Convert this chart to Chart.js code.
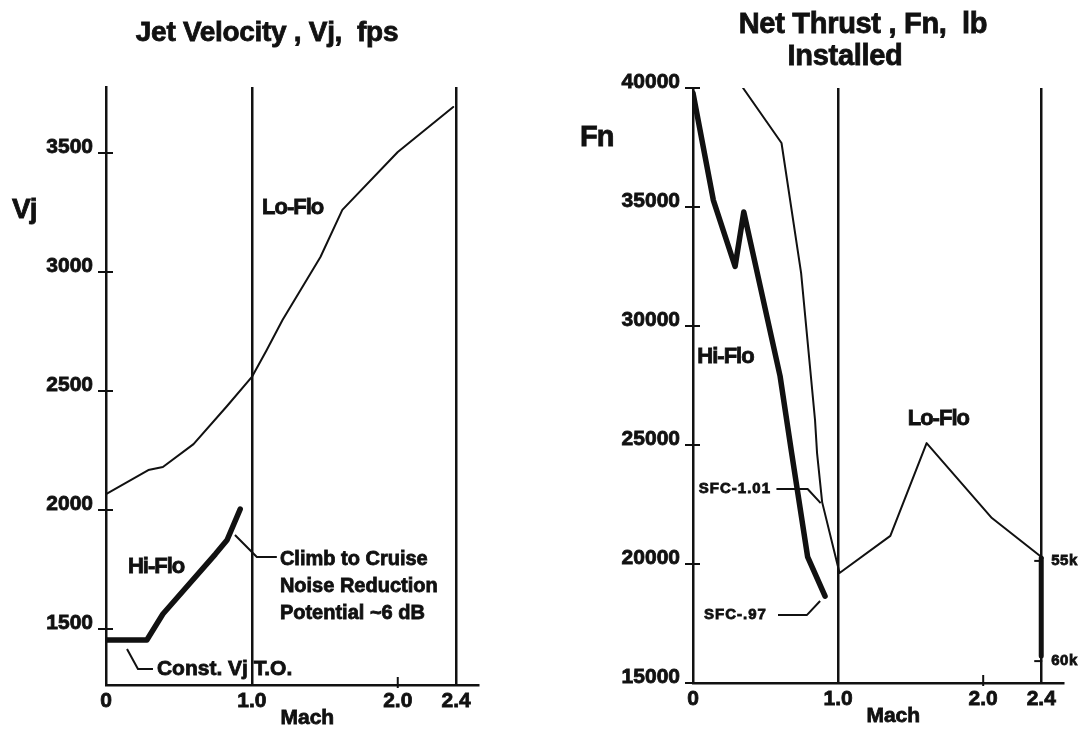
<!DOCTYPE html>
<html>
<head>
<meta charset="utf-8">
<title>Jet Velocity and Net Thrust vs Mach</title>
<script src="https://cdn.jsdelivr.net/npm/chart.js"></script>
<style>
  html, body { margin: 0; padding: 0; background: #fff; }
  #wrap { position: relative; width: 1083px; height: 731px; }
  .panel { position: absolute; top: 0; height: 731px; }
  #vjPanel { left: 0; width: 540px; }
  #fnPanel { left: 540px; width: 543px; }
</style>
</head>
<body>
<div id="wrap">
  <div class="panel" id="vjPanel"><canvas id="vjChart" width="540" height="731"></canvas></div>
  <div class="panel" id="fnPanel"><canvas id="fnChart" width="543" height="731"></canvas></div>
</div>
<script>
// ---- data ----
const machTicks = [0, 1.0, 2.0, 2.4];
const vjTicks = [1500, 2000, 2500, 3000, 3500];
const fnTicks = [15000, 20000, 25000, 30000, 35000, 40000];

// left panel: jet velocity, fps
const vjLoFloMach = [0, 0.29, 0.39, 0.60, 0.83, 1.0, 1.1, 1.21, 1.47, 1.62, 2.0, 2.38];
const vjLoFlo     = [2067, 2168, 2181, 2277, 2437, 2559, 2670, 2798, 3063, 3261, 3504, 3693];
const vjHiFloMach = [0, 0.28, 0.39, 0.75, 0.83, 0.92];
const vjHiFlo     = [1454, 1454, 1563, 1815, 1874, 2004];

// right panel: net thrust, lb
const fnHiFloMach = [0, 0.14, 0.29, 0.35, 0.60, 0.68, 0.79, 0.91];
const fnHiFlo     = [39790, 35290, 32500, 34790, 27900, 24660, 20300, 18650];
const fnLoFloMach = [0.345, 0.61, 0.745, 0.841, 0.855, 0.89, 1.01, 1.36, 1.61, 2.06, 2.41];
const fnLoFlo     = [40000, 37690, 32230, 26050, 24660, 22600, 19620, 21180, 25080, 21930, 20250];
const fnAltMach   = [2.4, 2.4];
const fnAlt       = [20250, 16130];
const altLabels   = ['55k', '60k'];
const altValues   = [20130, 15920];

const ink = '#111';
const fam = '"Liberation Sans", Arial, Helvetica, sans-serif';
Chart.defaults.font.family = fam;
Chart.defaults.color = ink;

function pts(xs, ys) {
  return xs.map((x, i) => ({ x: x, y: ys[i] }));
}

function line(xs, ys, w) {
  return { data: pts(xs, ys), borderColor: ink, borderWidth: w, pointRadius: 0,
           tension: 0, fill: false, borderJoinStyle: 'round', borderCapStyle: 'round' };
}

// scanned lettering is heavy, so fill and lightly stroke it
function drawText(ctx, text, x, y, font, align, spacing) {
  ctx.save();
  ctx.font = font;
  ctx.fillStyle = ink;
  ctx.strokeStyle = ink;
  ctx.lineWidth = 0.8;
  ctx.textAlign = align || 'left';
  ctx.textBaseline = 'middle';
  ctx.letterSpacing = spacing || '0px';
  ctx.fillText(text, x, y);
  ctx.strokeText(text, x, y);
  ctx.restore();
}

function drawPath(ctx, list, w) {
  ctx.save();
  ctx.strokeStyle = ink;
  ctx.lineWidth = w;
  ctx.lineJoin = 'round';
  ctx.beginPath();
  list.forEach((p, i) => i ? ctx.lineTo(p[0], p[1]) : ctx.moveTo(p[0], p[1]));
  ctx.stroke();
  ctx.restore();
}

// tick marks that cross the axis lines
function crossTicks(chart, yVals) {
  const ctx = chart.ctx, ca = chart.chartArea;
  const ys = chart.scales.y, xs = chart.scales.x;
  ctx.save();
  ctx.strokeStyle = ink;
  ctx.lineWidth = 2;
  ctx.beginPath();
  yVals.forEach(v => {
    const py = ys.getPixelForValue(v);
    ctx.moveTo(ca.left - 8, py);
    ctx.lineTo(ca.left + 7, py);
  });
  const p2 = xs.getPixelForValue(2.0);
  ctx.moveTo(p2, ca.bottom - 8);
  ctx.lineTo(p2, ca.bottom + 3);
  ctx.stroke();
  ctx.restore();
}

function machScale() {
  return {
    type: 'linear', min: 0, max: 2.55,
    afterBuildTicks: s => { s.ticks = machTicks.map(v => ({ value: v })); },
    afterFit: s => { s.height = 40; },
    border: { color: ink, width: 2.5 },
    grid: {
      drawTicks: false, lineWidth: 2.5,
      color: c => (c.tick && (c.tick.value === 1 || c.tick.value === 2.4)) ? ink : 'rgba(0,0,0,0)'
    },
    ticks: {
      font: { size: 21, weight: 'bold' }, color: ink, padding: 4,
      textStrokeColor: ink, textStrokeWidth: 0.8,
      maxRotation: 0, autoSkip: false,
      callback: v => v === 0 ? '0' : Number(v).toFixed(1)
    }
  };
}

function valueScale(min, max, list) {
  return {
    type: 'linear', min: min, max: max,
    afterBuildTicks: s => { s.ticks = list.map(v => ({ value: v })); },
    afterFit: s => { s.width = list[0] > 10000 ? 153 : 106; },
    border: { color: ink, width: 2.5 },
    grid: { drawOnChartArea: false, drawTicks: false },
    ticks: { font: { size: 21, weight: 'bold' }, color: ink, padding: 13, labelOffset: -6,
             textStrokeColor: ink, textStrokeWidth: 0.8,
             callback: v => String(v) }
  };
}

const vjDeco = {
  id: 'vjDeco',
  afterDraw(chart) {
    const ctx = chart.ctx, ca = chart.chartArea;
    const xs = chart.scales.x, ys = chart.scales.y;
    const P = (m, v) => [xs.getPixelForValue(m), ys.getPixelForValue(v)];
    crossTicks(chart, vjTicks);

    drawText(ctx, 'Jet Velocity , Vj,  fps', 267, 33, 'bold 28px ' + fam, 'center', '-0.3px');
    drawText(ctx, 'Vj', 12, 210, 'bold 28px ' + fam, 'left', '-1px');
    drawText(ctx, 'Mach', xs.getPixelForValue(1.38), ca.bottom + 33, 'bold 21px ' + fam, 'center');

    const lo = P(1.07, 3269);
    drawText(ctx, 'Lo-Flo', lo[0], lo[1], 'bold 22px ' + fam, 'left', '-1px');
    const hi = P(0.15, 1760);
    drawText(ctx, 'Hi-Flo', hi[0], hi[1], 'bold 22px ' + fam, 'left', '-1px');

    // climb to cruise note
    drawPath(ctx, [P(0.884, 1895), P(1.034, 1803), P(1.171, 1803)], 2);
    const c = P(1.192, 1803);
    const f = 'bold 20px ' + fam;
    drawText(ctx, 'Climb to Cruise', c[0], c[1] + 3, f);
    drawText(ctx, 'Noise Reduction', c[0], c[1] + 30, f);
    drawText(ctx, 'Potential ~6 dB', c[0], c[1] + 57, f);

    // take-off note
    drawPath(ctx, [P(0.144, 1416), P(0.219, 1332), P(0.322, 1332)], 2);
    const t = P(0.349, 1332);
    drawText(ctx, 'Const. Vj T.O.', t[0], t[1], 'bold 21px ' + fam);
  }
};

const fnDeco = {
  id: 'fnDeco',
  afterDraw(chart) {
    const ctx = chart.ctx, ca = chart.chartArea;
    const xs = chart.scales.x, ys = chart.scales.y;
    const P = (m, v) => [xs.getPixelForValue(m), ys.getPixelForValue(v)];
    crossTicks(chart, fnTicks);

    drawText(ctx, 'Net Thrust , Fn,  lb', 323, 25, 'bold 29px ' + fam, 'center', '-0.3px');
    drawText(ctx, 'Installed', 305, 57, 'bold 29px ' + fam, 'center', '-0.3px');
    drawText(ctx, 'Fn', 40, 138, 'bold 29px ' + fam, 'left', '-1px');
    drawText(ctx, 'Mach', xs.getPixelForValue(1.38), ca.bottom + 33, 'bold 21px ' + fam, 'center');

    const hi = P(0.03, 28700);
    drawText(ctx, 'Hi-Flo', hi[0], hi[1], 'bold 22px ' + fam, 'left', '-1px');
    const lo = P(1.48, 26090);
    drawText(ctx, 'Lo-Flo', lo[0], lo[1], 'bold 22px ' + fam, 'left', '-1px');

    const sf = 'bold 15px ' + fam;
    const s1 = P(0.04, 23150);
    drawText(ctx, 'SFC-1.01', s1[0], s1[1], sf, 'left', '1px');
    drawPath(ctx, [P(0.575, 23150), P(0.79, 23150), P(0.88, 22560)], 2);
    const s2 = P(0.076, 17860);
    drawText(ctx, 'SFC-.97', s2[0], s2[1], sf, 'left', '1px');
    drawPath(ctx, [P(0.586, 17860), P(0.786, 17860), P(0.876, 18445)], 2);

    // altitude marks on the 2.4 line
    altLabels.forEach((lab, i) => {
      const a = P(2.4, altValues[i]);
      drawPath(ctx, [[a[0] - 7, a[1]], [a[0] + 1, a[1]]], 2);
      drawText(ctx, lab, a[0] + 10, a[1], sf, 'left', '0.5px');
    });
  }
};

const baseOpts = {
  responsive: false,
  animation: false,
  plugins: { legend: { display: false }, tooltip: { enabled: false } }
};

new Chart(document.getElementById('vjChart'), {
  type: 'line',
  data: {
    datasets: [
      line(vjLoFloMach, vjLoFlo, 2),
      line(vjHiFloMach, vjHiFlo, 5.5)
    ]
  },
  options: Object.assign({}, baseOpts, {
    layout: { padding: { left: 0, right: 62, top: 87, bottom: 6 } },
    scales: { x: machScale(), y: valueScale(1265, 3777, vjTicks) }
  }),
  plugins: [vjDeco]
});

new Chart(document.getElementById('fnChart'), {
  type: 'line',
  data: {
    datasets: [
      line(fnLoFloMach, fnLoFlo, 2),
      line(fnHiFloMach, fnHiFlo, 5.5),
      line(fnAltMach, fnAlt, 5)
    ]
  },
  options: Object.assign({}, baseOpts, {
    layout: { padding: { left: 0, right: 20, top: 88, bottom: 8 } },
    scales: { x: machScale(), y: valueScale(15000, 40000, fnTicks) }
  }),
  plugins: [fnDeco]
});
</script>
</body>
</html>
